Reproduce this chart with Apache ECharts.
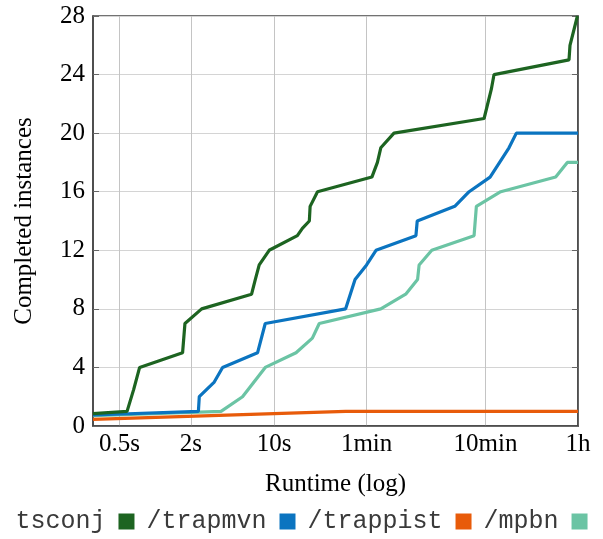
<!DOCTYPE html>
<html>
<head>
<meta charset="utf-8">
<title>Completed instances</title>
<script src="https://cdn.jsdelivr.net/npm/echarts@6/dist/echarts.min.js"></script>
<style>
  html, body { margin: 0; padding: 0; background: #fff; }
  #chart { width: 603px; height: 539px; }
</style>
</head>
<body>
<div id="chart"></div>
<script>
// runtime in seconds, count of instances solved so far
var tsconjTime = [0.3, 0.58, 0.66, 0.74, 1.70, 1.78, 2.46, 6.47, 6.95, 7.5, 9.1, 15.7, 17.3, 19.8, 20.1, 23.2, 66.5, 74, 79, 102, 584, 672, 708, 3025, 3083, 3560];
var tsconjCount = [0.85, 1, 2.5, 4, 5, 7, 8, 9, 10, 11, 12, 13, 13.5, 14, 15, 16, 17, 18, 19, 20, 21, 23, 24, 25, 26, 28];

var trapmvnTime = [0.3, 2.31, 2.35, 3.14, 3.69, 7.26, 8.43, 40, 48, 60, 72, 156, 160, 331, 437, 656, 946, 1091, 3600];
var trapmvnCount = [0.75, 1, 2, 3, 4, 5, 7, 8, 10, 11, 12, 13, 14, 15, 16, 17, 19, 20, 20];

var trappistTime = [0.3, 10, 40, 3600];
var trappistCount = [0.45, 0.85, 1, 1];

var mpbnTime = [0.3, 3.58, 5.43, 8.43, 15.3, 21, 24, 79, 128, 161, 166, 212, 481, 503, 806, 2337, 2926, 3600];
var mpbnCount = [0.7, 1, 2, 4, 5, 6, 7, 8, 9, 10, 11, 12, 13, 15, 16, 17, 18, 18];

var xTicks = [0.5, 2, 10, 60, 600, 3600];
var xTickLabels = ['0.5s', '2s', '10s', '1min', '10min', '1h'];

var names = ['tsconj', 'trapmvn', 'trappist', 'mpbn'];
var colors = ['#1d6421', '#0b74c0', '#e85b0a', '#6bc4a4'];

function pairs(t, c) {
  var out = [];
  for (var i = 0; i < t.length; i++) out.push([t[i], c[i]]);
  return out;
}

var chart = echarts.init(document.getElementById('chart'));
var serif = 'Liberation Serif';

function mkLine(i, t, c, z) {
  return {
    name: names[i],
    type: 'line',
    data: pairs(t, c),
    showSymbol: false,
    symbol: 'none',
    z: z,
    lineStyle: { width: 3.2, color: colors[i] },
    itemStyle: { color: colors[i] },
    animation: false
  };
}

chart.setOption({
  animation: false,
  grid: { left: 93, right: 25, top: 16, bottom: 113, show: true, borderColor: '#444', borderWidth: 1.5 },
  legend: {
    bottom: 0,
    left: 'center',
    align: 'right',
    icon: 'rect',
    itemWidth: 16,
    itemHeight: 16,
    itemGap: 12,
    data: names,
    formatter: function (n) { return n === 'tsconj' ? n : '/' + n; },
    textStyle: { fontFamily: 'Liberation Mono', fontSize: 25, color: '#3a3a3a', padding: [0, 8, 0, 0] }
  },
  xAxis: {
    type: 'log',
    logBase: 10,
    min: 0.3,
    max: 3600,
    name: 'Runtime (log)',
    nameLocation: 'middle',
    nameGap: 46,
    nameTextStyle: { fontFamily: serif, fontSize: 25, color: '#000' },
    axisLine: { show: true, lineStyle: { color: '#444', width: 1.5 } },
    axisTick: { show: false, customValues: xTicks },
    splitLine: { show: true, lineStyle: { color: '#c4c4c4', width: 1 } },
    minorTick: { show: false },
    minorSplitLine: { show: false },
    axisLabel: {
      customValues: xTicks,
      margin: 6,
      fontFamily: serif,
      fontSize: 25,
      color: '#000',
      formatter: function (v) {
        for (var i = 0; i < xTicks.length; i++) {
          if (Math.abs(xTicks[i] - v) / xTicks[i] < 1e-6) return xTickLabels[i];
        }
        return '';
      }
    }
  },
  yAxis: [{
    type: 'value',
    min: 0,
    max: 28,
    interval: 4,
    name: 'Completed instances',
    nameLocation: 'middle',
    nameGap: 56,
    nameTextStyle: { fontFamily: serif, fontSize: 25, color: '#000' },
    axisLine: { show: true, lineStyle: { color: '#444', width: 1.5 } },
    axisTick: { show: true, inside: true, length: 6, lineStyle: { color: '#666' } },
    splitLine: { show: true, lineStyle: { color: '#d4d4d4', width: 1 } },
    axisLabel: { margin: 8, fontFamily: serif, fontSize: 25, color: '#000' }
  }, {
    type: 'value',
    min: 0,
    max: 28,
    interval: 4,
    position: 'right',
    axisLine: { show: true, lineStyle: { color: '#444', width: 1.5 } },
    axisTick: { show: true, inside: true, length: 6, lineStyle: { color: '#666' } },
    splitLine: { show: false },
    axisLabel: { show: false }
  }],
  series: [
    mkLine(0, tsconjTime, tsconjCount, 4),
    mkLine(1, trapmvnTime, trapmvnCount, 3),
    mkLine(2, trappistTime, trappistCount, 5),
    mkLine(3, mpbnTime, mpbnCount, 2)
  ]
});
</script>
</body>
</html>
